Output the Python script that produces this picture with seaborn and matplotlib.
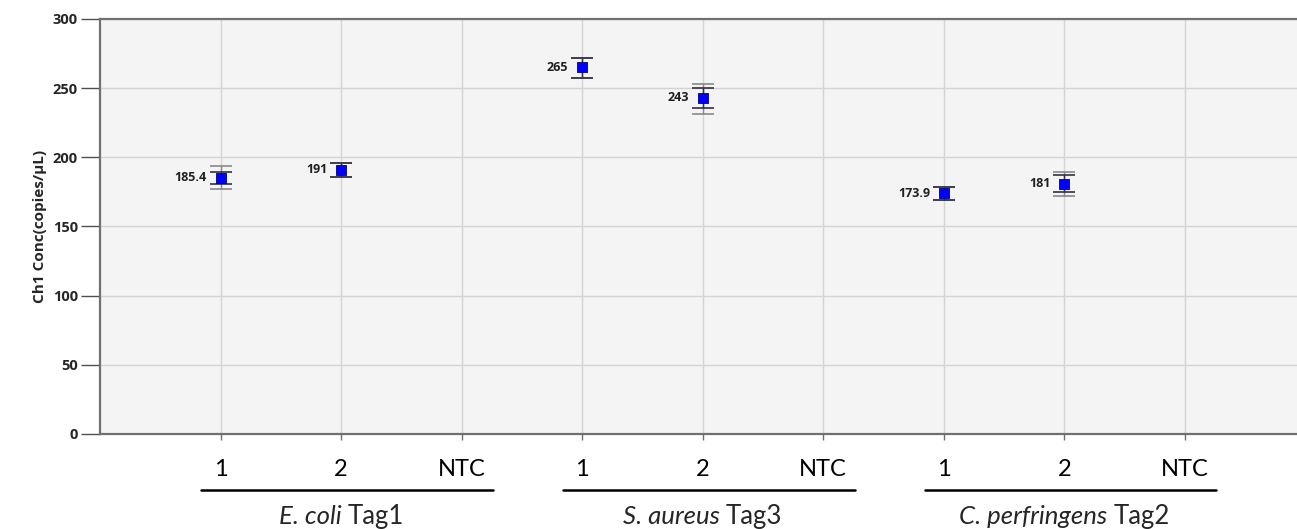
import numpy as np
import pandas as pd
import matplotlib
matplotlib.use('Agg')
import matplotlib.pyplot as plt
import seaborn as sns
from matplotlib.transforms import offset_copy

# data
groups = ['E. coli', 'S. aureus', 'C. perfringens']
group_tags = ['Tag1', 'Tag3', 'Tag2']
samples = ['1', '2', 'NTC']
conc = [185.4, 191, np.nan, 265, 243, np.nan, 173.9, 181, np.nan]
ci_low = [180.7, 186.0, np.nan, 257.6, 235.5, np.nan, 169.4, 174.7, np.nan]
ci_high = [189.1, 195.9, np.nan, 272.0, 250.0, np.nan, 178.3, 187.2, np.nan]
tot_low = [177.1, 186.0, np.nan, 257.6, 231.2, np.nan, 169.4, 172.3, np.nan]
tot_high = [193.9, 195.9, np.nan, 272.0, 252.8, np.nan, 178.3, 189.6, np.nan]
labels = ['185.4', '191', '', '265', '243', '', '173.9', '181', '']

df = pd.DataFrame({
    'pos': np.arange(1, len(conc) + 1),
    'sample': samples * len(groups),
    'conc': conc,
    'ci_low': ci_low, 'ci_high': ci_high,
    'tot_low': tot_low, 'tot_high': tot_high,
    'label': labels,
})

sns.set_style('whitegrid')
plt.rcParams['font.family'] = ['Lato', 'DejaVu Sans']
ui_font = ['Open Sans', 'DejaVu Sans']

fig = plt.figure(figsize=(12.97, 5.29), dpi=100)
ax = fig.add_axes([0.0771, 0.1796, 0.9229, 0.7845])
ax.set_facecolor('#f4f4f4')

ok = df.dropna(subset=['conc'])
# outer (total) error bars
ax.errorbar(ok['pos'], ok['conc'],
            yerr=[ok['conc'] - ok['tot_low'], ok['tot_high'] - ok['conc']],
            fmt='none', ecolor='#8a8a8a', elinewidth=1, capsize=8, capthick=1.2, zorder=3)
# inner (poisson) error bars
ax.errorbar(ok['pos'], ok['conc'],
            yerr=[ok['conc'] - ok['ci_low'], ok['ci_high'] - ok['conc']],
            fmt='none', ecolor='#303040', elinewidth=1, capsize=8, capthick=1.2, zorder=4)
sns.scatterplot(data=ok, x='pos', y='conc', marker='s', s=45, color='#0000ff',
                edgecolor='#000080', linewidth=0.6, ax=ax, zorder=5, legend=False)

for _, r in ok.iterrows():
    ax.annotate(r['label'], (r['pos'], r['conc']), xytext=(-10, 0), textcoords='offset points',
                ha='right', va='center', fontsize=9, fontweight='bold', color='#202020',
                family=ui_font)

ax.set_xlim(0, 9.93)
ax.set_ylim(0, 300)
ax.set_yticks(np.arange(0, 301, 50))
ax.set_xticks(df['pos'])
ax.set_xticklabels(df['sample'], fontsize=17, color='black')
ax.tick_params(axis='x', length=4, width=1, color='#707070', pad=14, direction='out')
ax.tick_params(axis='y', length=14, width=1, color='#505050', pad=2, labelsize=10.5, direction='out')
for lab in ax.get_yticklabels():
    lab.set_fontweight('bold')
    lab.set_family(ui_font)
ax.xaxis.set_ticks_position('bottom')
ax.yaxis.set_ticks_position('left')
ax.grid(True, color='#d4d4d4', linewidth=1)
ax.set_axisbelow(True)
ax.set_xlabel('')
ax.set_ylabel('Ch1 Conc(copies/μL)', fontsize=11, fontweight='bold', labelpad=4,
              family=ui_font)

for side in ['left', 'bottom', 'top']:
    ax.spines[side].set_color('#707070')
    ax.spines[side].set_linewidth(1.6)
ax.spines['right'].set_visible(False)

# group underline and names (italic species + regular tag)
trans = ax.get_xaxis_transform()
renderer = fig.canvas.get_renderer()
for i, (g, t) in enumerate(zip(groups, group_tags)):
    x0 = 3 * i + 1
    ax.plot([x0 - 0.16, x0 + 2.26], [-0.135, -0.135], color='black', lw=1.8,
            transform=trans, clip_on=False)
    t1 = ax.text(x0 + 1.0, -0.2, g + ' ', transform=trans, ha='left', va='center',
                 fontsize=18.5, style='italic')
    t2 = ax.text(x0 + 1.0, -0.2, t, transform=trans, ha='left', va='center', fontsize=18.5)
    w1 = t1.get_window_extent(renderer).width
    w2 = t2.get_window_extent(renderer).width
    total = w1 + w2
    t1.set_transform(offset_copy(trans, fig=fig, x=-total / 2, y=0, units='dots'))
    t2.set_transform(offset_copy(trans, fig=fig, x=-total / 2 + w1, y=0, units='dots'))

fig.savefig('out.png', dpi=100)
